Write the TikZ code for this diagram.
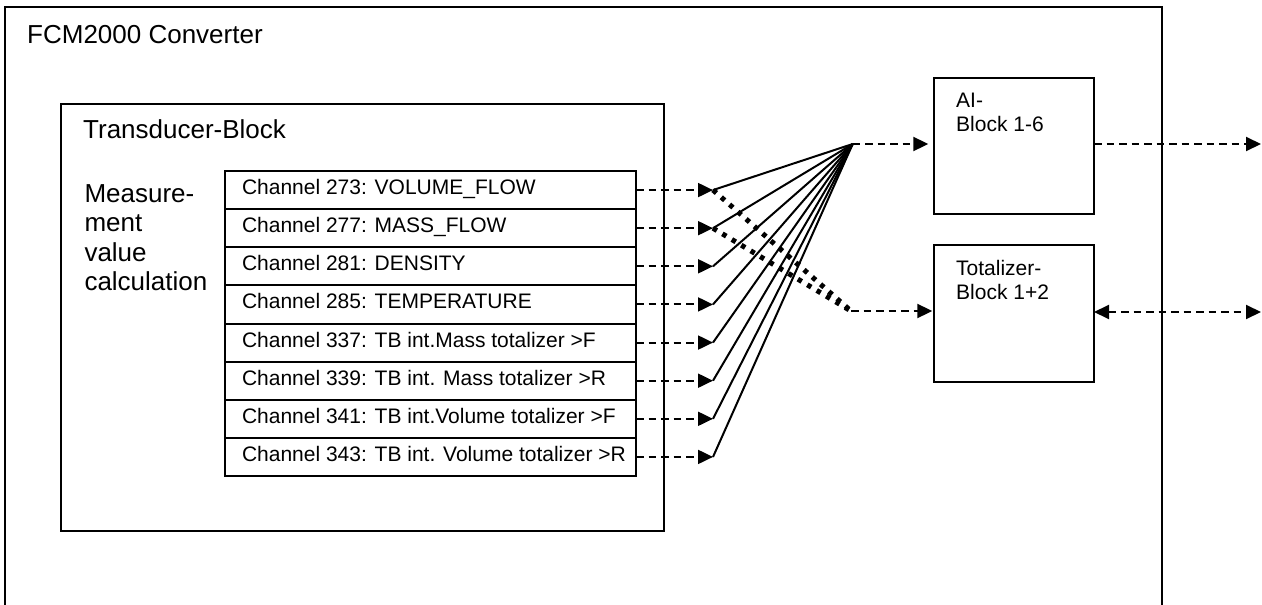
\documentclass[tikz,border=0pt]{standalone}
\usepackage{fontspec}
\setmainfont{Liberation Sans}
\usetikzlibrary{arrows.meta,calc}
\begin{document}
\begin{tikzpicture}[x=1pt,y=-1pt,
  box/.style={draw, line width=2pt, outer sep=0pt, inner sep=0pt, anchor=north west},
  chrow/.style={draw, line width=2pt, outer sep=0pt, inner xsep=16.7pt, inner ysep=0pt, anchor=north west, minimum width=411pt, minimum height=38.125pt, text height=14pt, text depth=5pt, font=\fontsize{21}{24}\selectfont},
  title/.style={inner sep=0pt, anchor=base west, font=\fontsize{26}{29.2}\selectfont, align=left},
  lbl/.style={inner sep=0pt, anchor=base west, font=\fontsize{21}{24.3}\selectfont, align=left},
  dsh/.style={line width=2pt, dash pattern=on 7.5pt off 5pt},
  tip/.style={-{Triangle[length=15pt,width=14pt]}},
  fan/.style={line width=2pt},
  dots/.style={line width=5pt, dash pattern=on 4.5pt off 6.5pt}
]
\useasboundingbox (0,0) rectangle (1262,605);
\fill[white] (0,0) rectangle (1262,605);

% boxes
\node[box, minimum width=1157pt, minimum height=640pt] (conv) at (5,7) {};
\node[box, minimum width=602.5pt, minimum height=426.4pt] (tb) at (61,104.3) {};
\node[box, minimum width=159.7pt, minimum height=136.3pt] (ai) at (934.3,77.7) {};
\node[box, minimum width=159.7pt, minimum height=137.3pt] (tot) at (934.3,245) {};

% labels (multi-line: base anchor = last line)
\node[title] (convlbl) at (27,43.3) {FCM2000 Converter};
\node[title] (tblbl) at (83,138.3) {Transducer-Block};
\node[title] (meas) at (84.3,290.3) {Measure-\\ment\\value\\calculation};
\node[lbl] (ailbl) at (956,131.7) {AI-\\Block 1-6};
\node[lbl] (totlbl) at (956,299.3) {Totalizer-\\Block 1+2};

% channel rows
\foreach \i/\t in {1/{Channel 273: VOLUME\_FLOW},
                   2/{Channel 277: MASS\_FLOW},
                   3/{Channel 281: DENSITY},
                   4/{Channel 285: TEMPERATURE},
                   5/{Channel 337: TB int.Mass totalizer >F},
                   6/{Channel 339: TB int. Mass totalizer >R},
                   7/{Channel 341: TB int.Volume totalizer >F},
                   8/{Channel 343: TB int. Volume totalizer >R}}{
  \node[chrow] (c\i) at (225,{171+(\i-1)*38.125}) {\makebox[377pt][l]{\t}};
  \coordinate (t\i) at (713,{171+(\i-0.5)*38.125});
}

\coordinate (apex) at (852.7,144);
\coordinate (d) at (851,311);
\coordinate (o1) at (1261,144);
\coordinate (o2) at (1261,312);

% connectors
\foreach \i in {1,...,8}{
  \draw[dsh,tip] (c\i.east) -- (t\i);
  \draw[fan] (t\i) -- (apex);
}
\draw[dots] (t1) -- (d);
\draw[dots] (t2) -- (d);
\draw[dsh,tip,shorten >=6pt] (apex) -- (apex -| ai.west);
\draw[dsh,tip,shorten >=2pt] (d) -- (d -| tot.west);
\draw[dsh,tip] (ai.east |- o1) -- (o1);
\draw[dsh,{Triangle[length=15pt,width=14pt]}-{Triangle[length=15pt,width=14pt]}] (tot.east |- o2) -- (o2);
\end{tikzpicture}
\end{document}
